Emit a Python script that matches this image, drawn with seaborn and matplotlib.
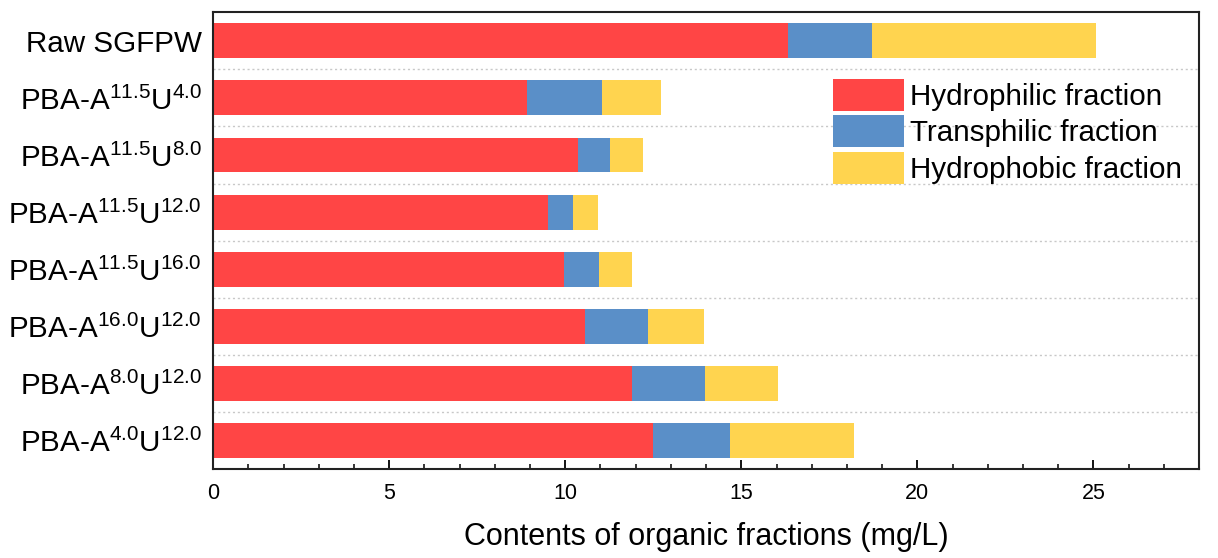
import matplotlib
matplotlib.use("Agg")
import matplotlib.pyplot as plt
import matplotlib.patches as mpatches
from matplotlib.ticker import MultipleLocator
import numpy as np
import pandas as pd
import seaborn as sns

# Datos (mg/L)
muestras = [r"Raw SGFPW",
            r"PBA-A$^{\mathrm{11.5}}$U$^{\mathrm{4.0}}$",
            r"PBA-A$^{\mathrm{11.5}}$U$^{\mathrm{8.0}}$",
            r"PBA-A$^{\mathrm{11.5}}$U$^{\mathrm{12.0}}$",
            r"PBA-A$^{\mathrm{11.5}}$U$^{\mathrm{16.0}}$",
            r"PBA-A$^{\mathrm{16.0}}$U$^{\mathrm{12.0}}$",
            r"PBA-A$^{\mathrm{8.0}}$U$^{\mathrm{12.0}}$",
            r"PBA-A$^{\mathrm{4.0}}$U$^{\mathrm{12.0}}$"]
hidrofilica = [16.33, 8.91, 10.37, 9.51, 9.95, 10.57, 11.89, 12.48]
transfilica = [2.38, 2.14, 0.91, 0.72, 1.02, 1.79, 2.08, 2.19]
hidrofobica = [6.37, 1.67, 0.93, 0.71, 0.92, 1.59, 2.08, 3.52]
series = ["Hydrophilic fraction", "Transphilic fraction", "Hydrophobic fraction"]
colores = ["#FF4545", "#5A8FC8", "#FFD44F"]

df = pd.DataFrame({"muestra": muestras,
                   "hid": hidrofilica,
                   "tra": transfilica,
                   "fob": hidrofobica})
df["c1"] = df["hid"]
df["c2"] = df["hid"] + df["tra"]
df["c3"] = df["c2"] + df["fob"]

sns.set_style("white")
plt.rcParams["font.family"] = ["Liberation Sans", "DejaVu Sans"]
plt.rcParams["mathtext.fontset"] = "custom"
plt.rcParams["mathtext.rm"] = "Liberation Sans"
plt.rcParams["text.color"] = "black"
plt.rcParams["axes.labelcolor"] = "black"
plt.rcParams["xtick.color"] = "black"
plt.rcParams["ytick.color"] = "black"

fig = plt.figure(figsize=(12.18, 5.58), dpi=100)
ax = fig.add_axes([0.175, 0.1595, 0.8095, 0.8185])

# Barras apiladas: se dibuja el acumulado de mayor a menor
for col, color in zip(["c3", "c2", "c1"], colores[::-1]):
    sns.barplot(data=df, x=col, y="muestra", color=color, saturation=1,
                width=0.61, linewidth=0, orient="h", ax=ax)

ax.set_xlim(0, 28)
ax.set_ylim(7.5, -0.5)
ax.xaxis.set_major_locator(MultipleLocator(5))
ax.xaxis.set_minor_locator(MultipleLocator(1))
ax.tick_params(axis="x", which="major", direction="in", length=6.5, width=1.3,
               labelsize=15.5, pad=10, bottom=True)
ax.tick_params(axis="x", which="minor", direction="in", length=3.5, width=1.1, bottom=True)
ax.tick_params(axis="y", length=0, labelsize=21.3, pad=8)

ax.set_yticks(np.arange(0.5, 7, 1), minor=True)
ax.grid(False)
ax.grid(axis="y", which="minor", linestyle=(0, (1.5, 2)), color="#c8c8c8", linewidth=1)
ax.set_axisbelow(True)

for s in ax.spines.values():
    s.set_visible(True)
    s.set_color("#222222")
    s.set_linewidth(1.5)

ax.set_xlabel("Contents of organic fractions (mg/L)", fontsize=22, labelpad=13)
ax.set_ylabel("")

handles = [mpatches.Patch(color=c, label=l, linewidth=0) for c, l in zip(colores, series)]
ax.legend(handles=handles, loc="upper left", bbox_to_anchor=(0.629, 0.855),
          frameon=False, fontsize=21.3, handlelength=2.4, handleheight=1.3,
          labelspacing=0.15, handletextpad=0.2, borderpad=0, borderaxespad=0)

fig.savefig("out.png", dpi=100)
